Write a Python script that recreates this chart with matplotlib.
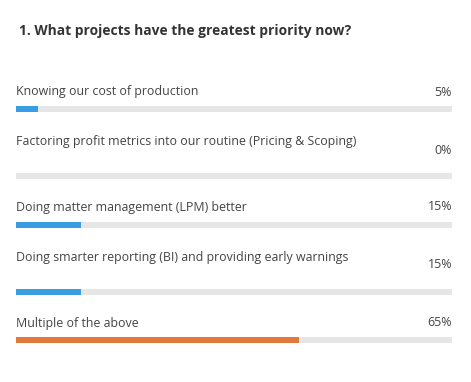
import matplotlib
matplotlib.use("Agg")
import matplotlib.pyplot as plt

title = "1. What projects have the greatest priority now?"
categories = [
    "Knowing our cost of production",
    "Factoring profit metrics into our routine (Pricing & Scoping)",
    "Doing matter management (LPM) better",
    "Doing smarter reporting (BI) and providing early warnings",
    "Multiple of the above",
]
values = [5, 0, 15, 15, 65]
pct_labels = ["5%", "0%", "15%", "15%", "65%"]

# layout (pixel rows in the 382 px tall figure)
label_y = [92, 141, 207, 257, 323]
pct_y = [92, 150, 207, 265, 323]
bar_y = [108.5, 175.5, 224.5, 291.5, 339.5]
colors = ["#3a9de3", "#3a9de3", "#3a9de3", "#3a9de3", "#e0793a"]
track_color = "#e6e6e6"
text_color = "#444444"

W, H = 471, 382
fig = plt.figure(figsize=(W / 100, H / 100), dpi=100)
fig.patch.set_facecolor("white")
left_px, right_px = 16, 452
ax = fig.add_axes([left_px / W, 0, (right_px - left_px) / W, 1])
ax.set_xlim(0, 100)
ax.set_ylim(H, 0)
ax.axis("off")

fam = ["Open Sans", "DejaVu Sans"]
bar_h = 6
ax.barh(bar_y, [100] * len(values), height=bar_h, color=track_color, left=0)
ax.barh(bar_y, values, height=bar_h, color=colors, left=0)

for cat, ly, py, p in zip(categories, label_y, pct_y, pct_labels):
    ax.text(0, ly, cat, ha="left", va="center", fontsize=8.9,
            color=text_color, family=fam)
    ax.text(100, py, p, ha="right", va="center", fontsize=8.9,
            color=text_color, family=fam)

fig.text(19 / W, 1 - 31 / H, title, ha="left", va="center", fontsize=9.95,
         fontweight="bold", color="#333333", family=fam)

fig.savefig("out.png", dpi=100, facecolor="white")
